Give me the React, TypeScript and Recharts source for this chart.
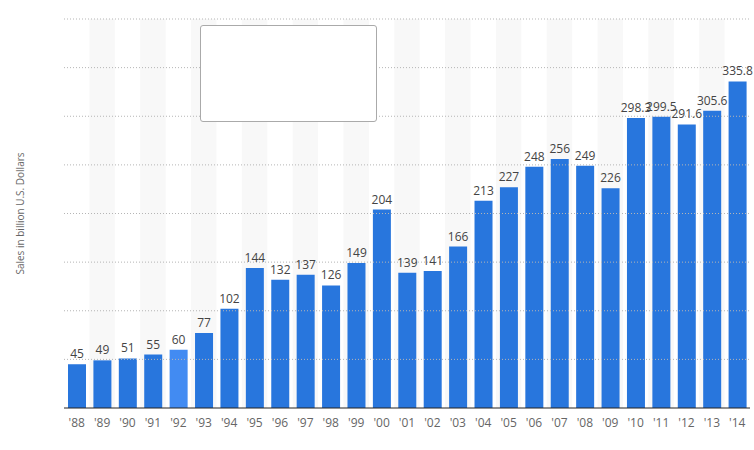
import { BarChart, Bar, XAxis, YAxis, ReferenceArea, ReferenceLine, LabelList, Legend, Cell } from 'recharts';

const years = ["'88", "'89", "'90", "'91", "'92", "'93", "'94", "'95", "'96", "'97", "'98", "'99", "'00", "'01", "'02", "'03", "'04", "'05", "'06", "'07", "'08", "'09", "'10", "'11", "'12", "'13", "'14"];
const sales = [45, 49, 51, 55, 60, 77, 102, 144, 132, 137, 126, 149, 204, 139, 141, 166, 213, 227, 248, 256, 249, 226, 298.3, 299.5, 291.6, 305.6, 335.8];
const yTicks = [0, 50, 100, 150, 200, 250, 300, 350, 400];
const highlighted = "'92";

const FONT = '"Open Sans", "Liberation Sans", Arial, sans-serif';

const data = years.map((year, i) => ({ year, sales: sales[i] }));

// empty legend frame, as in the original
function LegendBox() {
  return (
    <div
      style={{
        width: 175,
        height: 95,
        border: '1px solid #aaa',
        borderRadius: 3,
        background: '#fff',
      }}
    />
  );
}

export default function App() {
  return (
    <div style={{ position: 'absolute', left: 0, top: 0, background: '#fff' }}>
      <BarChart
        width={754}
        height={450}
        data={data}
        margin={{ top: 19, right: 4, left: 0, bottom: 12 }}
      >
        {years
          .filter((_, i) => i % 2 === 1)
          .map((y) => (
            <ReferenceArea key={y} x1={y} x2={y} y1={0} y2={400} fill="#f8f8f8" fillOpacity={1} stroke="none" />
          ))}
        {/* dotted grid drawn as reference lines so it sits above the stripes */}
        {yTicks
          .filter((t) => t > 0)
          .map((t) => (
            <ReferenceLine key={t} y={t} stroke="#b5b5b5" strokeDasharray="1 2" />
          ))}
        <XAxis
          dataKey="year"
          tickLine={false}
          axisLine={{ stroke: '#222', strokeWidth: 1 }}
          tick={{ fontSize: 12, fill: '#666', fontFamily: FONT, dy: 2 }}
          interval={0}
          height={30}
        />
        <YAxis
          width={64}
          domain={[0, 400]}
          ticks={yTicks}
          tick={false}
          tickLine={false}
          axisLine={false}
          label={{
            value: 'Sales in billion U.S. Dollars',
            angle: -90,
            position: 'insideLeft',
            offset: 20,
            style: { textAnchor: 'middle', fontSize: 10, fill: '#666', fontFamily: FONT },
          }}
        />
        <Legend
          layout="horizontal"
          verticalAlign="middle"
          align="center"
          content={<LegendBox />}
          wrapperStyle={{ left: 200, top: 25, width: 177 }}
        />
        <Bar dataKey="sales" barSize={18} fill="#2876dd" isAnimationActive={false}>
          {data.map((d) => (
            <Cell key={d.year} fill={d.year === highlighted ? '#428bf2' : '#2876dd'} />
          ))}
          <LabelList
            dataKey="sales"
            position="top"
            offset={6}
            style={{ fontSize: 12, fill: '#444', fontFamily: FONT }}
          />
        </Bar>
      </BarChart>
    </div>
  );
}
